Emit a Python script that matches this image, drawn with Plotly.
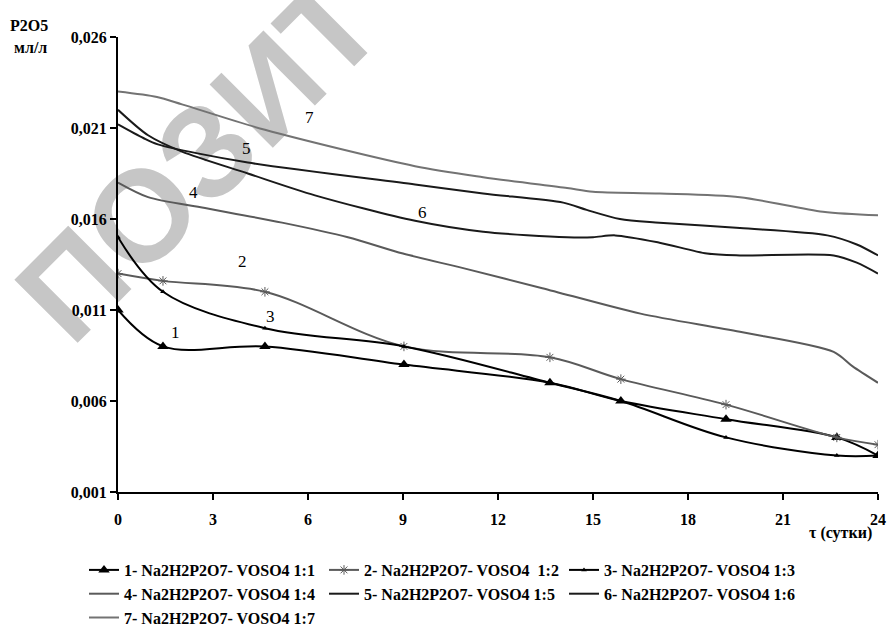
import plotly.graph_objects as go

# ---------------- data ----------------
days_m = [0, 1.42, 4.64, 9.03, 13.64, 15.88, 19.2, 22.7, 24]
s1 = [0.011, 0.009, 0.009, 0.008, 0.007, 0.006, 0.005, 0.004, 0.003]
s2 = [0.013, 0.0126, 0.012, 0.009, 0.0084, 0.0072, 0.0058, 0.004, 0.0036]
s3 = [0.015, 0.012, 0.010, 0.009, 0.007, 0.006, 0.004, 0.003, 0.003]

days4 = [0, 0.95, 2.75, 5.18, 7.26, 9.0, 10.9, 13.4, 16.5, 19.64, 22.6, 23.2, 24]
s4 = [0.0180, 0.0172, 0.0166, 0.0158, 0.0150, 0.0141, 0.0133, 0.0122, 0.0108,
      0.0098, 0.0087, 0.0079, 0.0070]

days5 = [0, 0.8, 1.26, 4.1, 9.38, 11.53, 14.06, 14.8, 15.85, 17.1, 19.64, 22.4, 23.33, 24]
s5 = [0.0212, 0.02045, 0.0201, 0.0191, 0.0179, 0.0174, 0.0169, 0.0165, 0.0160,
      0.0158, 0.0155, 0.0151, 0.0146, 0.0140]

days6 = [0, 0.95, 2.02, 4.1, 6.22, 9.38, 11.53, 14.18, 15.0, 15.7, 17.1, 18.6,
         19.64, 22.6, 23.33, 24]
s6 = [0.0220, 0.0206, 0.0197, 0.0185, 0.0173, 0.0159, 0.0153, 0.0150, 0.0150,
      0.0151, 0.0147, 0.0141, 0.0140, 0.0140, 0.0136, 0.0130]

days7 = [0, 1.23, 2.02, 4.64, 9.38, 11.53, 14.18, 15.0, 17.11, 19.64, 22.26, 24]
s7 = [0.0230, 0.0227, 0.0223, 0.0209, 0.0189, 0.0183, 0.0177, 0.0175, 0.0174,
      0.0172, 0.0164, 0.0162]

names = ["1- Na2H2P2O7- VOSO4 1:1", "2- Na2H2P2O7- VOSO4  1:2",
         "3- Na2H2P2O7- VOSO4 1:3", "4- Na2H2P2O7- VOSO4 1:4",
         "5- Na2H2P2O7- VOSO4 1:5", "6- Na2H2P2O7- VOSO4 1:6",
         "7- Na2H2P2O7- VOSO4 1:7"]

x_ticks = [0, 3, 6, 9, 12, 15, 18, 21, 24]
y_ticks = [0.001, 0.006, 0.011, 0.016, 0.021, 0.026]
y_tick_labels = ["0,001", "0,006", "0,011", "0,016", "0,021", "0,026"]

curve_labels = ["1", "2", "3", "4", "5", "6", "7"]
label_x = [1.80, 3.92, 4.80, 2.37, 4.07, 9.60, 6.06]
label_y = [0.00979, 0.01364, 0.01062, 0.01743, 0.01990, 0.01633, 0.02155]

# ---------------- layout geometry ----------------
W, H = 887, 628
PL, PR, PT, PB = 118, 878, 37, 492          # plot area in page pixels


def px(x):
    return (x - PL) / (PR - PL)


def py(y):
    return (PB - y) / (PB - PT)


SERIF = "Liberation Serif, Times New Roman, DejaVu Serif, serif"
BLACK = "#000000"
GRAY = "#5a5a5a"

fig = go.Figure()

fig.add_trace(go.Scatter(x=days_m, y=s1, name=names[0], mode="lines+markers",
                         line=dict(color=BLACK, width=2, shape="spline", smoothing=1),
                         marker=dict(symbol="triangle-up", size=10, color=BLACK)))
fig.add_trace(go.Scatter(x=days_m, y=s2, name=names[1], mode="lines+markers",
                         line=dict(color=GRAY, width=2, shape="spline", smoothing=1),
                         marker=dict(symbol="asterisk-open", size=8,
                                     line=dict(color=BLACK, width=1))))
fig.add_trace(go.Scatter(x=days_m, y=s3, name=names[2], mode="lines+markers",
                         line=dict(color=BLACK, width=2, shape="spline", smoothing=1),
                         marker=dict(symbol="triangle-up", size=5, color=BLACK)))
fig.add_trace(go.Scatter(x=days4, y=s4, name=names[3], mode="lines",
                         line=dict(color=GRAY, width=2, shape="spline", smoothing=0.8)))
fig.add_trace(go.Scatter(x=days5, y=s5, name=names[4], mode="lines",
                         line=dict(color="#1a1a1a", width=2, shape="spline", smoothing=0.8)))
fig.add_trace(go.Scatter(x=days6, y=s6, name=names[5], mode="lines",
                         line=dict(color="#1a1a1a", width=2, shape="spline", smoothing=0.8)))
fig.add_trace(go.Scatter(x=days7, y=s7, name=names[6], mode="lines",
                         line=dict(color="#737373", width=2, shape="spline", smoothing=0.8)))

for t, lx, ly in zip(curve_labels, label_x, label_y):
    fig.add_annotation(x=lx, y=ly, text=t, showarrow=False,
                       xanchor="center", yanchor="middle",
                       font=dict(family=SERIF, size=17, color=BLACK))

# axis titles
for txt, tx, ty in [("<b>P2O5</b>", 29, 25), ("<b>мл/л</b>", 30, 47),
                    ("<b>τ (сутки)</b>", 840, 533)]:
    fig.add_annotation(xref="paper", yref="paper", x=px(tx), y=py(ty), text=txt,
                       showarrow=False, xanchor="center", yanchor="middle",
                       font=dict(family=SERIF, size=16, color=BLACK))

# watermark (behind the curves)
fig.add_shape(type="rect", xref="paper", yref="paper",
              x0=px(165), x1=px(215), y0=py(175), y1=py(125),
              line=dict(width=0), fillcolor="rgba(0,0,0,0)", layer="below",
              label=dict(text="ПОЗИТ", textangle=-45, textposition="middle center",
                         font=dict(family="Liberation Sans", size=130,
                                   color="#c6c6c6", weight="bold")))

fig.update_layout(
    width=W, height=H,
    margin=dict(l=PL, r=W - PR, t=PT, b=H - PB, autoexpand=False),
    paper_bgcolor="white", plot_bgcolor="rgba(0,0,0,0)",
    font=dict(family=SERIF, size=16, color=BLACK),
    showlegend=True,
    legend=dict(orientation="h", x=px(84), y=py(553), xanchor="left", yanchor="top",
                entrywidth=195, entrywidthmode="pixels",
                font=dict(family=SERIF, size=16, color=BLACK, weight="bold"),
                bgcolor="rgba(0,0,0,0)"),
    xaxis=dict(range=[0, 24], tickvals=x_ticks, showgrid=False, zeroline=False,
               showline=True, linecolor=BLACK, linewidth=2, ticks="outside",
               ticklen=6, tickwidth=2, tickcolor=BLACK, ticklabelstandoff=6,
               tickfont=dict(family=SERIF, size=16, color=BLACK, weight="bold")),
    yaxis=dict(range=[0.001, 0.026], tickvals=y_ticks, ticktext=y_tick_labels,
               showgrid=False, zeroline=False,
               showline=True, linecolor=BLACK, linewidth=2, ticks="outside",
               ticklen=6, tickwidth=2, tickcolor=BLACK,
               tickfont=dict(family=SERIF, size=16, color=BLACK, weight="bold")),
)

# remove the default 8px page margin so the 887x628 figure fills the window
page_css = ("document.body.style.margin='0';"
            "document.documentElement.style.overflow='hidden';")
fig.write_html("out.html", post_script=page_css,
               config={"displayModeBar": False})
